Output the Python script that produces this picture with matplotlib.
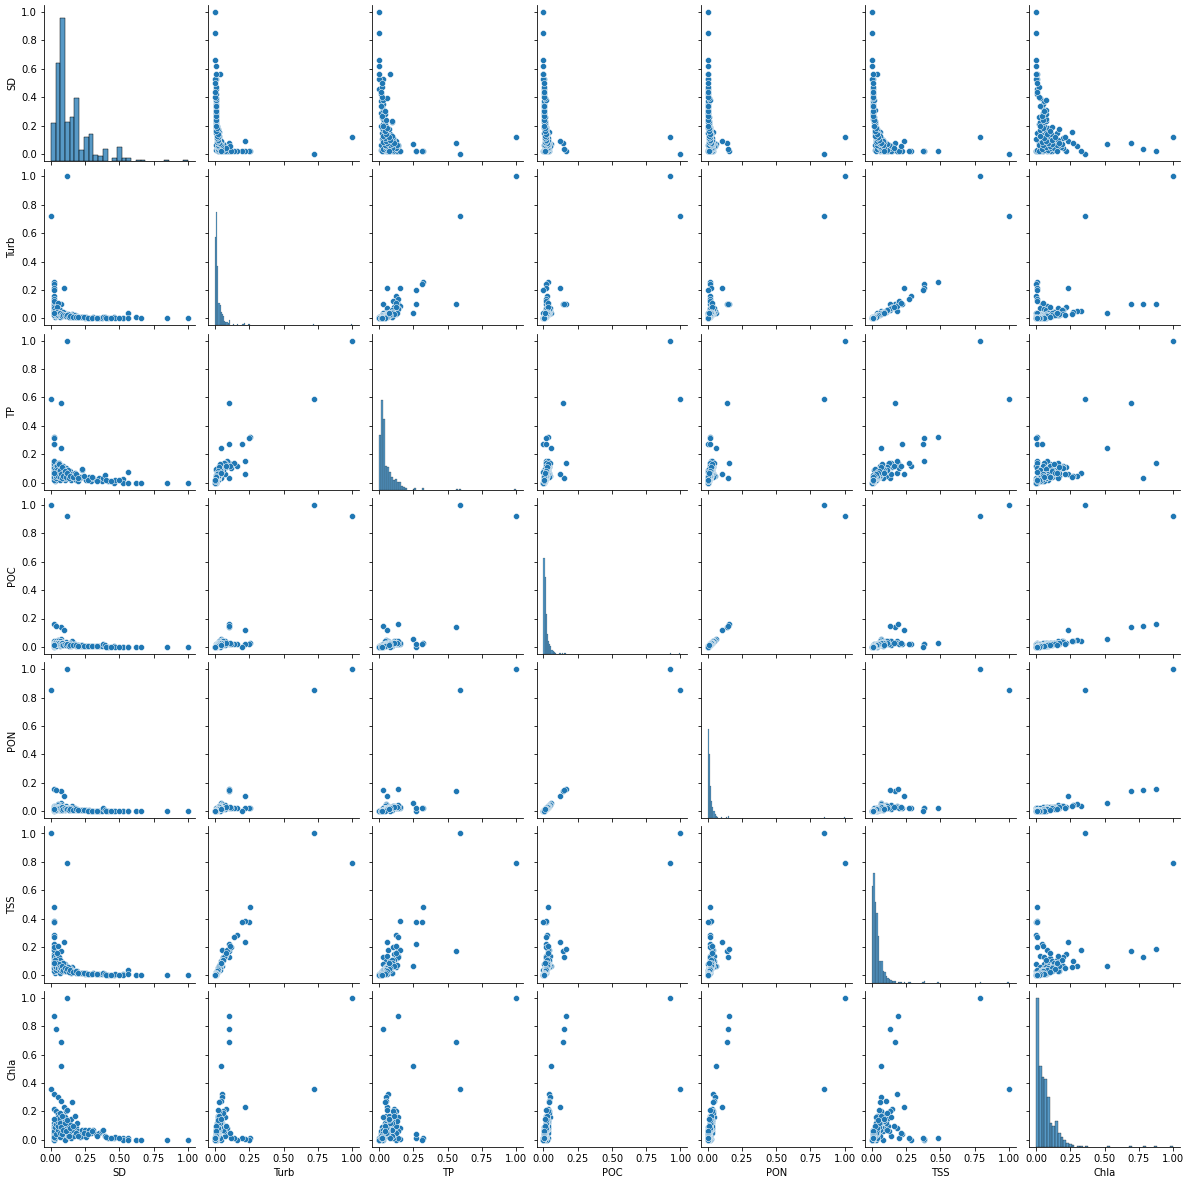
import numpy as np
import matplotlib
matplotlib.use("Agg")
import matplotlib.pyplot as plt
from matplotlib.colors import to_rgba
from matplotlib.ticker import FixedLocator, StrMethodFormatter

variables = ["SD", "Turb", "TP", "POC", "PON", "TSS", "Chla"]

# ---- scatter data (min-max normalised), one entry per sample, same row order in every list
SD = [0.117, 0.00, 0.075, 0.02, 0.037, 0.073, 0.094, 0.02, 0.02, 0.02, 0.02, 0.02, 0.02, 0.02, 0.02, 0.053, 0.075, 0.155,
      0.02, 0.02, 0.02, 0.02, 0.02, 0.02, 0.02, 0.02, 0.035, 0.04, 0.045, 0.05,
      0.055, 0.06, 0.06, 0.065, 0.07, 0.07, 0.08, 0.085, 0.09, 0.095, 0.10, 0.105, 0.11, 0.115, 0.12, 0.13, 0.135, 0.14, 0.145, 0.15,
      0.16, 0.17, 0.175, 0.18, 0.19, 0.195, 0.20, 0.21, 0.053, 0.03, 0.04, 0.05, 0.065, 0.08, 0.09, 0.10, 0.125, 0.03, 0.045, 0.02, 0.06,
      0.22, 0.225, 0.23, 0.25, 0.26, 0.28, 0.29, 0.31, 0.33, 0.35, 0.37, 0.38, 0.394, 0.42, 0.46, 0.47, 0.53, 0.53, 0.565, 0.565, 0.62, 0.66, 0.85, 1.00,
      0.025, 0.03, 0.035, 0.04, 0.045, 0.05, 0.055, 0.06, 0.065, 0.07, 0.075, 0.08, 0.085, 0.09, 0.10, 0.11, 0.12, 0.13, 0.14, 0.16,
      0.18, 0.20, 0.24, 0.27, 0.30, 0.34, 0.40, 0.44, 0.50, 0.02]
Turb = [1.00, 0.72, 0.10, 0.10, 0.10, 0.04, 0.215, 0.257, 0.245, 0.215, 0.20, 0.16, 0.135, 0.10, 0.05, 0.05, 0.045, 0.03,
        0.03, 0.05, 0.08, 0.06, 0.09, 0.04, 0.12, 0.07, 0.05, 0.06, 0.03, 0.04,
        0.07, 0.02, 0.065, 0.045, 0.03, 0.055, 0.02, 0.04, 0.03, 0.025, 0.035, 0.015, 0.03, 0.02, 0.025, 0.02, 0.015, 0.025, 0.01, 0.02,
        0.015, 0.01, 0.02, 0.01, 0.015, 0.01, 0.012, 0.008, 0.11, 0.01, 0.015, 0.02, 0.01, 0.035, 0.045, 0.02, 0.03, 0.06, 0.08, 0.02, 0.035,
        0.01, 0.008, 0.01, 0.005, 0.008, 0.005, 0.004, 0.006, 0.004, 0.005, 0.004, 0.01, 0.01, 0.005, 0.01, 0.005, 0.005, 0.0, 0.035, 0.005, 0.01, 0.0, 0.0, 0.0,
        0.025, 0.035, 0.02, 0.03, 0.045, 0.03, 0.025, 0.04, 0.02, 0.035, 0.025, 0.03, 0.015, 0.02, 0.025, 0.015, 0.02, 0.012, 0.018, 0.01,
        0.012, 0.008, 0.006, 0.005, 0.004, 0.004, 0.003, 0.003, 0.002, 0.04]
TP = [1.00, 0.59, 0.56, 0.137, 0.03, 0.245, 0.06, 0.32, 0.315, 0.155, 0.27, 0.12, 0.14, 0.27, 0.065, 0.05, 0.05, 0.04,
      0.05, 0.08, 0.11, 0.13, 0.15, 0.03, 0.10, 0.06, 0.09, 0.12, 0.07, 0.10,
      0.14, 0.04, 0.14, 0.08, 0.06, 0.11, 0.03, 0.09, 0.12, 0.05, 0.07, 0.02, 0.10, 0.04, 0.06, 0.05, 0.03, 0.08, 0.02, 0.06,
      0.05, 0.03, 0.07, 0.02, 0.04, 0.01, 0.05, 0.03, 0.12, 0.01, 0.02, 0.03, 0.015, 0.07, 0.10, 0.03, 0.09, 0.09, 0.12, 0.02, 0.13,
      0.04, 0.09, 0.094, 0.03, 0.02, 0.04, 0.01, 0.03, 0.02, 0.03, 0.01, 0.03, 0.055, 0.01, 0.0, 0.02, 0.025, 0.0, 0.075, 0.0, 0.0, 0.0, 0.0, 0.0,
      0.04, 0.06, 0.03, 0.05, 0.09, 0.06, 0.05, 0.08, 0.04, 0.09, 0.06, 0.11, 0.03, 0.05, 0.08, 0.04, 0.07, 0.03, 0.05, 0.04,
      0.06, 0.03, 0.05, 0.02, 0.04, 0.01, 0.02, 0.01, 0.02, 0.07]
POC = [0.925, 1.00, 0.14, 0.163, 0.15, 0.057, 0.12, 0.03, 0.02, 0.022, 0.0, 0.023, 0.022, 0.02, 0.04, 0.05, 0.042, 0.04,
       0.01, 0.02, 0.03, 0.02, 0.03, 0.005, 0.02, 0.015, 0.03, 0.04, 0.02, 0.035,
       0.045, 0.01, 0.02, 0.03, 0.02, 0.04, 0.01, 0.03, 0.02, 0.025, 0.03, 0.01, 0.035, 0.015, 0.02, 0.02, 0.01, 0.025, 0.005, 0.02,
       0.015, 0.01, 0.02, 0.005, 0.015, 0.01, 0.01, 0.008, 0.03, 0.005, 0.01, 0.015, 0.005, 0.025, 0.03, 0.02, 0.02, 0.025, 0.03, 0.005, 0.03,
       0.01, 0.005, 0.01, 0.005, 0.008, 0.005, 0.003, 0.004, 0.003, 0.004, 0.003, 0.02, 0.01, 0.002, 0.003, 0.002, 0.001, 0.0, 0.0, 0.0, 0.0, 0.0, 0.0, 0.0,
       0.01, 0.015, 0.008, 0.02, 0.025, 0.02, 0.018, 0.025, 0.012, 0.022, 0.018, 0.028, 0.01, 0.015, 0.02, 0.012, 0.018, 0.008, 0.015, 0.01,
       0.012, 0.006, 0.006, 0.004, 0.004, 0.003, 0.002, 0.002, 0.001, 0.012]
PON = [1.00, 0.85, 0.14, 0.155, 0.15, 0.06, 0.105, 0.02, 0.02, 0.023, 0.0, 0.02, 0.02, 0.02, 0.04, 0.05, 0.045, 0.04,
       0.01, 0.02, 0.03, 0.02, 0.03, 0.005, 0.02, 0.015, 0.03, 0.04, 0.02, 0.035,
       0.045, 0.01, 0.02, 0.03, 0.02, 0.04, 0.01, 0.03, 0.02, 0.025, 0.03, 0.01, 0.035, 0.015, 0.02, 0.02, 0.01, 0.025, 0.005, 0.02,
       0.015, 0.01, 0.02, 0.005, 0.015, 0.01, 0.01, 0.008, 0.03, 0.005, 0.01, 0.015, 0.005, 0.025, 0.03, 0.02, 0.02, 0.025, 0.03, 0.005, 0.03,
       0.01, 0.005, 0.01, 0.005, 0.008, 0.005, 0.003, 0.004, 0.003, 0.004, 0.003, 0.02, 0.01, 0.002, 0.003, 0.002, 0.001, 0.0, 0.0, 0.0, 0.0, 0.0, 0.0, 0.0,
       0.01, 0.015, 0.008, 0.02, 0.025, 0.02, 0.018, 0.025, 0.012, 0.022, 0.018, 0.028, 0.01, 0.015, 0.02, 0.012, 0.018, 0.008, 0.015, 0.01,
       0.012, 0.006, 0.006, 0.004, 0.004, 0.003, 0.002, 0.002, 0.001, 0.012]
TSS = [0.79, 1.00, 0.17, 0.19, 0.13, 0.068, 0.236, 0.484, 0.38, 0.383, 0.374, 0.285, 0.27, 0.22, 0.18, 0.07, 0.10, 0.06,
       0.06, 0.10, 0.15, 0.12, 0.18, 0.08, 0.20, 0.14, 0.11, 0.13, 0.06, 0.09,
       0.14, 0.05, 0.127, 0.10, 0.07, 0.11, 0.04, 0.09, 0.06, 0.05, 0.08, 0.03, 0.07, 0.04, 0.05, 0.04, 0.03, 0.05, 0.02, 0.04,
       0.03, 0.025, 0.035, 0.02, 0.03, 0.015, 0.02, 0.02, 0.21, 0.02, 0.03, 0.035, 0.02, 0.065, 0.085, 0.03, 0.06, 0.11, 0.16, 0.03, 0.075,
       0.02, 0.015, 0.02, 0.01, 0.015, 0.01, 0.01, 0.02, 0.01, 0.01, 0.008, 0.015, 0.01, 0.005, 0.005, 0.01, 0.01, 0.0, 0.04, 0.01, 0.0, 0.0, 0.0, 0.0,
       0.05, 0.07, 0.04, 0.06, 0.09, 0.06, 0.05, 0.08, 0.04, 0.06, 0.05, 0.07, 0.03, 0.04, 0.05, 0.035, 0.045, 0.025, 0.04, 0.025,
       0.03, 0.018, 0.015, 0.012, 0.01, 0.008, 0.006, 0.005, 0.005, 0.09]
Chla = [1.00, 0.36, 0.69, 0.873, 0.78, 0.52, 0.233, 0.01, 0.0, 0.005, 0.01, 0.0, 0.01, 0.04, 0.325, 0.30, 0.27, 0.266,
        0.05, 0.12, 0.22, 0.10, 0.08, 0.0, 0.01, 0.03, 0.15, 0.20, 0.09, 0.18,
        0.16, 0.04, 0.06, 0.12, 0.08, 0.19, 0.02, 0.14, 0.10, 0.17, 0.06, 0.0, 0.20, 0.09, 0.21, 0.13, 0.05, 0.11, 0.01, 0.15,
        0.07, 0.03, 0.17, 0.09, 0.12, 0.04, 0.06, 0.02, 0.05, 0.01, 0.03, 0.06, 0.02, 0.11, 0.08, 0.16, 0.03, 0.07, 0.10, 0.02, 0.13,
        0.05, 0.03, 0.07, 0.07, 0.02, 0.07, 0.05, 0.07, 0.04, 0.05, 0.06, 0.07, 0.03, 0.01, 0.01, 0.02, 0.01, 0.0, 0.01, 0.0, 0.0, 0.0, 0.0, 0.0,
        0.06, 0.09, 0.04, 0.11, 0.13, 0.07, 0.10, 0.15, 0.05, 0.12, 0.09, 0.17, 0.04, 0.07, 0.12, 0.06, 0.14, 0.03, 0.08, 0.10,
        0.05, 0.03, 0.05, 0.04, 0.06, 0.03, 0.02, 0.01, 0.01, 0.15]

# ---- diagonal histogram counts (equal-width bins over [0, 1])
SD_bins = 29
SD_counts = [38, 99, 144, 39, 44, 64, 11, 24, 27, 6, 5, 12, 0, 3, 14, 3, 3, 0, 1, 1, 0, 0, 0, 0, 1, 0, 0, 0, 1]
SD_tail = []
Turb_bins = 120
Turb_counts = [89, 114, 60, 23, 21, 14, 11, 9, 4, 3, 3, 2, 5]
Turb_tail = [0.135, 0.16, 0.20, 0.215, 0.215, 0.245, 0.257, 0.72, 1.0]
TP_bins = 70
TP_counts = [55, 90, 71, 24, 23, 18, 13, 10, 11, 8, 8, 4, 3, 2]
TP_tail = [0.245, 0.27, 0.27, 0.315, 0.32, 0.56, 0.59, 1.0]
POC_bins = 120
POC_counts = [97, 78, 40, 20, 13, 10, 8, 4, 3, 2, 1]
POC_tail = [0.12, 0.14, 0.15, 0.163, 0.925, 1.0]
PON_bins = 120
PON_counts = [90, 65, 33, 17, 11, 7, 4, 2, 1]
PON_tail = [0.105, 0.14, 0.15, 0.155, 0.85, 1.0]
TSS_bins = 90
TSS_counts = [97, 111, 81, 70, 47, 22, 22, 12, 11, 7, 5, 4, 3, 2, 2, 1]
TSS_tail = [0.17, 0.19, 0.21, 0.22, 0.236, 0.27, 0.285, 0.374, 0.38, 0.383, 0.484, 0.79, 1.0]
Chla_bins = 50
Chla_counts = [150, 82, 70, 68, 50, 24, 21, 26, 14, 10, 7, 4, 3, 2]
Chla_tail = [0.30, 0.325, 0.36, 0.52, 0.69, 0.78, 0.873, 1.0]

values = {"SD": SD, "Turb": Turb, "TP": TP, "POC": POC, "PON": PON, "TSS": TSS, "Chla": Chla}
hist_spec = {
    "SD": (SD_bins, SD_counts, SD_tail),
    "Turb": (Turb_bins, Turb_counts, Turb_tail),
    "TP": (TP_bins, TP_counts, TP_tail),
    "POC": (POC_bins, POC_counts, POC_tail),
    "PON": (PON_bins, PON_counts, PON_tail),
    "TSS": (TSS_bins, TSS_counts, TSS_tail),
    "Chla": (Chla_bins, Chla_counts, Chla_tail),
}

# ---- layout
W_PX, H_PX, DPI = 1183, 1180, 72
fig = plt.figure(figsize=(W_PX / DPI, H_PX / DPI), dpi=DPI)
fig.patch.set_facecolor("white")

col_left0, col_step, col_w = 44.0, 164.2, 150.7
row_top0, row_step, row_h = 4.9, 164.3, 156.2

blue = "#1f77b4"
n = len(variables)
xt = [0.0, 0.25, 0.5, 0.75, 1.0]
yt = [0.0, 0.2, 0.4, 0.6, 0.8, 1.0]

diag_ylim = 1.05 * max(max(c) for _, c, _ in hist_spec.values())

for r, yv in enumerate(variables):
    for c, xv in enumerate(variables):
        left = (col_left0 + c * col_step) / W_PX
        bottom = 1 - (row_top0 + r * row_step + row_h) / H_PX
        ax = fig.add_axes([left, bottom, col_w / W_PX, row_h / H_PX])
        ax.set_xlim(-0.05, 1.05)
        ax.set_ylim(-0.05, 1.05)
        ax.xaxis.set_major_locator(FixedLocator(xt))
        ax.yaxis.set_major_locator(FixedLocator(yt))
        ax.xaxis.set_major_formatter(StrMethodFormatter("{x:.2f}"))
        ax.yaxis.set_major_formatter(StrMethodFormatter("{x:.1f}"))
        ax.spines["top"].set_visible(False)
        ax.spines["right"].set_visible(False)
        ax.tick_params(labelbottom=(r == n - 1), labelleft=(c == 0), labelsize=10)
        if r == n - 1:
            ax.set_xlabel(xv, fontsize=10)
        if c == 0:
            ax.set_ylabel(yv, fontsize=10)

        if r == c:
            nb, counts, tail = hist_spec[xv]
            heights = np.zeros(nb)
            heights[:len(counts)] = counts
            for v in tail:
                heights[min(int(v * nb), nb - 1)] += 1
            edges = np.linspace(0, 1, nb + 1)
            keep = heights > 0
            hax = ax.twinx()
            hax.set_axis_off()
            hax.set_ylim(0, diag_ylim)
            bw_pts = (1.0 / nb) * (col_w / 1.1)  # pixels == points at 72 dpi
            hax.bar(edges[:-1][keep], heights[keep], width=1.0 / nb, align="edge",
                    facecolor=to_rgba(blue, 0.75), edgecolor="black",
                    linewidth=0.1 * bw_pts)
        else:
            ax.scatter(values[xv], values[yv], s=36, color=blue,
                       edgecolors="white", linewidths=0.48, zorder=2)

fig.savefig("out.png", dpi=DPI, facecolor="white")
